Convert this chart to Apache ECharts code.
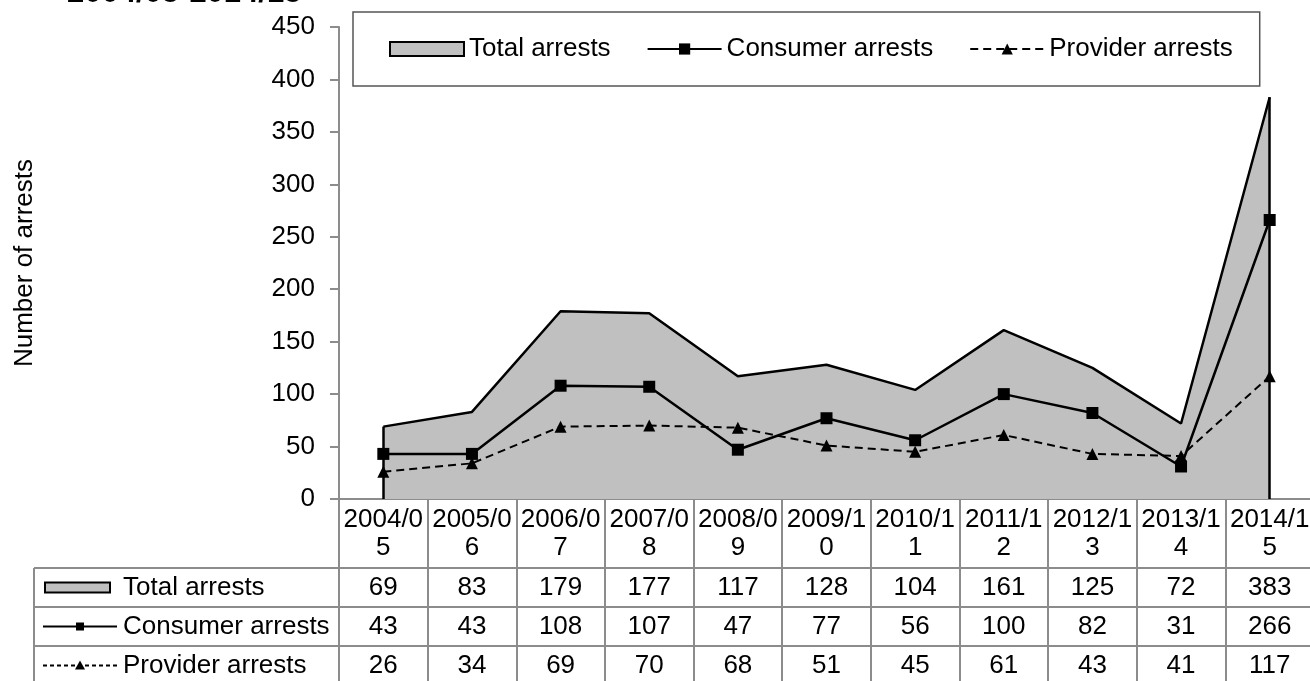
<!DOCTYPE html>
<html>
<head>
<meta charset="utf-8">
<script src="https://cdn.jsdelivr.net/npm/echarts@6/dist/echarts.min.js"></script>
<style>
  html, body { margin: 0; padding: 0; background: #fff; }
  #chart { width: 1310px; height: 681px; }
</style>
</head>
<body>
<div id="chart"></div>
<script>
const categories = ["2004/05", "2005/06", "2006/07", "2007/08", "2008/09", "2009/10",
  "2010/11", "2011/12", "2012/13", "2013/14", "2014/15"];
const totalArrests = [69, 83, 179, 177, 117, 128, 104, 161, 125, 72, 383];
const consumerArrests = [43, 43, 108, 107, 47, 77, 56, 100, 82, 31, 266];
const providerArrests = [26, 34, 69, 70, 68, 51, 45, 61, 43, 41, 117];
const seriesNames = ["Total arrests", "Consumer arrests", "Provider arrests"];
const yMin = 0, yMax = 450, yStep = 50;

const FONT = "Liberation Sans, Arial, sans-serif";
const GRID_LINE = "#8c8c8c";
const last = categories.length - 1;

// table cells built from the series arrays
let tableRows = [totalArrests, consumerArrests, providerArrests];
let tableData = [];
tableRows.forEach((row, r) => {
  row.forEach((v, i) => tableData.push([i, r, v]));
});

// row header icons + texts for the data table
const rowY = [587.5, 626.5, 665.5];
let rowHeaders = [
  { type: "rect", shape: { x: 45, y: rowY[0] - 5, width: 65, height: 10 },
    style: { fill: "#c0c0c0", stroke: "#000", lineWidth: 2 } },
  { type: "line", shape: { x1: 43, y1: rowY[1], x2: 117, y2: rowY[1] },
    style: { stroke: "#000", lineWidth: 2 } },
  { type: "rect", shape: { x: 76, y: rowY[1] - 4, width: 8, height: 8 },
    style: { fill: "#000" } },
  { type: "line", shape: { x1: 43, y1: rowY[2], x2: 118, y2: rowY[2] },
    style: { stroke: "#000", lineWidth: 2, lineDash: [4, 3] } },
  { type: "polygon", shape: { points: [[80, rowY[2] - 5], [75, rowY[2] + 4], [85, rowY[2] + 4]] },
    style: { fill: "#000" } }
];
seriesNames.forEach((name, r) => {
  rowHeaders.push({
    type: "text", x: 123, y: rowY[r],
    style: { text: name, fontSize: 26, fontFamily: FONT, fill: "#000", verticalAlign: "middle" }
  });
});

// table borders
let tableLines = [568, 607, 646].map(y => ({
  type: "line", shape: { x1: 34, y1: y, x2: 1310, y2: y },
  style: { stroke: GRID_LINE, lineWidth: 2 }
}));
tableLines.push({
  type: "line", shape: { x1: 34, y1: 568, x2: 34, y2: 700 },
  style: { stroke: GRID_LINE, lineWidth: 2 }
});

const chart = echarts.init(document.getElementById("chart"));

const option = {
  animation: false,
  textStyle: { fontFamily: FONT, color: "#000" },
  grid: [
    { left: 339, top: 27, width: 975, height: 472, containLabel: false, outerBoundsMode: "none" },
    { left: 339, top: 568, width: 975, height: 117, containLabel: false, outerBoundsMode: "none" }
  ],
  legend: {
    left: 353,
    top: 12,
    itemWidth: 74,
    itemHeight: 14,
    itemGap: 36,
    padding: [24, 27, 24, 36],
    borderColor: "#555",
    borderWidth: 1.5,
    textStyle: { fontSize: 26, color: "#000", lineHeight: 26, fontFamily: FONT },
    data: [
      { name: "Total arrests", icon: "rect",
        itemStyle: { color: "#c0c0c0", borderColor: "#000", borderWidth: 2 } },
      "Consumer arrests",
      "Provider arrests"
    ]
  },
  xAxis: [
    {
      type: "category",
      gridIndex: 0,
      data: categories,
      boundaryGap: true,
      axisLine: { lineStyle: { color: GRID_LINE, width: 2 } },
      axisTick: { show: true, interval: 0, length: 200, lineStyle: { color: GRID_LINE, width: 2 } },
      axisLabel: {
        interval: 0,
        margin: 7,
        fontSize: 26,
        lineHeight: 28,
        color: "#000",
        formatter: v => v.slice(0, 6) + "\n" + v.slice(6)
      }
    },
    {
      type: "category",
      gridIndex: 1,
      data: categories,
      show: false
    }
  ],
  yAxis: [
    {
      type: "value",
      gridIndex: 0,
      min: yMin,
      max: yMax,
      interval: yStep,
      name: "Number of arrests",
      nameLocation: "middle",
      nameGap: 301,
      nameRotate: 90,
      nameTextStyle: { fontSize: 26, color: "#000" },
      axisLine: { show: true, lineStyle: { color: GRID_LINE, width: 2 } },
      axisTick: { show: true, length: 9, lineStyle: { color: GRID_LINE, width: 2 } },
      axisLabel: { fontSize: 26, color: "#000", margin: 24 },
      splitLine: { show: false }
    },
    {
      type: "category",
      gridIndex: 1,
      data: seriesNames,
      inverse: true,
      show: false
    }
  ],
  series: [
    {
      name: "Total arrests",
      type: "line",
      data: totalArrests,
      symbol: "none",
      itemStyle: { color: "#c0c0c0" },
      lineStyle: { color: "#000", width: 2.5 },
      areaStyle: { color: "#c0c0c0", opacity: 1 },
      markLine: {
        silent: true,
        symbol: ["none", "none"],
        label: { show: false },
        lineStyle: { color: "#000", width: 2.5, type: "solid" },
        data: [
          [{ coord: [0, 0] }, { coord: [0, totalArrests[0]] }],
          [{ coord: [last, 0] }, { coord: [last, totalArrests[last]] }]
        ]
      }
    },
    {
      name: "Provider arrests",
      type: "line",
      data: providerArrests,
      symbol: "triangle",
      symbolSize: 12,
      itemStyle: { color: "#000" },
      lineStyle: { color: "#000", width: 2, type: [8, 5] }
    },
    {
      name: "Consumer arrests",
      type: "line",
      data: consumerArrests,
      symbol: "rect",
      symbolSize: 12,
      itemStyle: { color: "#000" },
      lineStyle: { color: "#000", width: 2.5 }
    },
    {
      name: "table",
      type: "scatter",
      xAxisIndex: 1,
      yAxisIndex: 1,
      data: tableData,
      symbolSize: 1,
      silent: true,
      itemStyle: { color: "transparent" },
      label: {
        show: true,
        position: "inside",
        fontSize: 26,
        color: "#000",
        opacity: 1,
        textBorderWidth: 0,
        fontFamily: FONT,
        formatter: p => String(p.value[2])
      }
    }
  ],
  graphic: [
    {
      type: "text", x: 67, y: -7,
      style: { text: "2004/05-2014/15", fontSize: 31, fontWeight: "bold", fontFamily: FONT,
        fill: "#000", verticalAlign: "middle" }
    }
  ].concat(tableLines, rowHeaders)
};

chart.setOption(option);
</script>
</body>
</html>
